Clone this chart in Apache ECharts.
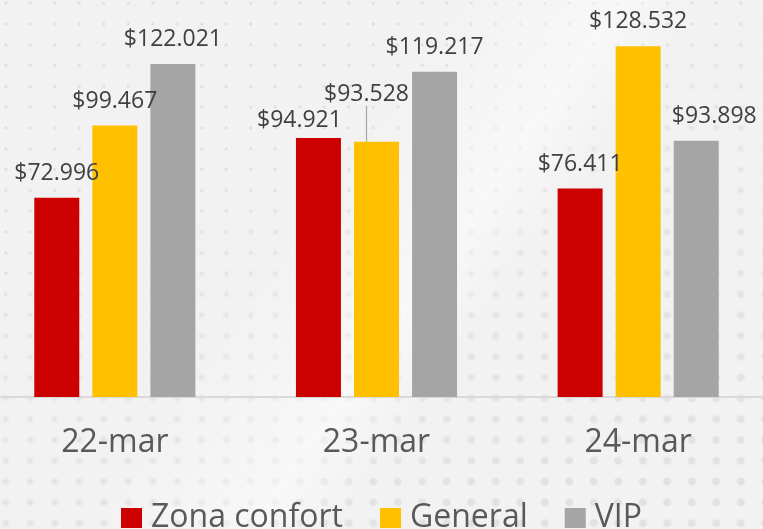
<!DOCTYPE html>
<html>
<head>
<meta charset="utf-8">
<title>Ventas por zona</title>
<script src="https://cdn.jsdelivr.net/npm/echarts@6/dist/echarts.min.js"></script>
<style>
  html, body { margin: 0; padding: 0; }
  body { width: 763px; height: 529px; position: relative; overflow: hidden; background: #f2f2f2; }
  /* fondo decorativo: puntos pequeños arriba, grandes abajo a la derecha */
  .dots-small, .dots-big, .shine { position: absolute; left: 0; top: 0; width: 763px; height: 529px; }
  .dots-small {
    background-image: radial-gradient(circle, #e0e0e0 1.3px, rgba(224,224,224,0) 1.9px);
    background-size: 24.5px 20.8px;
    background-position: -6.5px 13.6px;
  }
  .dots-big {
    background-image: radial-gradient(circle, #e2e2e2 3.6px, rgba(226,226,226,0) 4.3px);
    background-size: 24.5px 20.8px;
    background-position: -6.5px 13.6px;
    -webkit-mask-image: linear-gradient(160deg, rgba(0,0,0,0) 35%, rgba(0,0,0,1) 85%);
    mask-image: linear-gradient(160deg, rgba(0,0,0,0) 35%, rgba(0,0,0,1) 85%);
  }
  .shine {
    background: linear-gradient(125deg, rgba(255,255,255,0) 40%, rgba(255,255,255,0.45) 55%, rgba(255,255,255,0) 62%);
  }
  /* el gráfico sobresale un poco por los lados, como en el original */
  #chart { position: absolute; left: -16px; top: 0; width: 785px; height: 529px; }
</style>
</head>
<body>
<div class="dots-small"></div>
<div class="dots-big"></div>
<div class="shine"></div>
<div id="chart"></div>
<script>
// Datos del gráfico
const fechas = ['22-mar', '23-mar', '24-mar'];
const zonaConfort = [72996, 94921, 76411];
const general = [99467, 93528, 128532];
const vip = [122021, 119217, 93898];

// Colores de cada serie
const colores = ['#cc0000', '#ffc000', '#a5a5a5'];

// Formato $72.996 (punto como separador de miles)
function formatoPesos(valor) {
  return '$' + String(valor).replace(/\B(?=(\d{3})+(?!\d))/g, '.');
}

const chart = echarts.init(document.getElementById('chart'), null, { renderer: 'canvas' });

const etiqueta = {
  show: true,
  position: 'top',
  distance: 13,
  color: '#404040',
  fontFamily: 'Open Sans',
  fontSize: 23,
  formatter: function (p) { return formatoPesos(p.value); }
};

const option = {
  backgroundColor: 'transparent',
  animation: false,
  color: colores,
  grid: { left: 0, right: 0, top: 15, bottom: 132, containLabel: false },
  legend: {
    top: 497,
    left: 132,
    itemWidth: 21,
    itemHeight: 20,
    itemGap: 37,
    icon: 'rect',
    textStyle: { color: '#595959', fontFamily: 'Open Sans', fontSize: 32, padding: [0, 0, 0, 4] },
    data: ['Zona confort', 'General', 'VIP']
  },
  xAxis: {
    type: 'category',
    data: fechas,
    axisLine: { show: true, lineStyle: { color: '#d9d9d9', width: 2 } },
    axisTick: { show: false },
    axisLabel: { color: '#595959', fontFamily: 'Open Sans', fontSize: 32, margin: 30 }
  },
  yAxis: {
    type: 'value',
    min: 0,
    max: 140000,
    show: false,
    splitLine: { show: false }
  },
  series: [
    {
      name: 'Zona confort',
      type: 'bar',
      barWidth: 45,
      barGap: '29%',
      label: etiqueta,
      data: zonaConfort.map(function (v, i) {
        // etiqueta de 23-mar desplazada a la izquierda
        if (i === 1) return { value: v, label: { offset: [-19, 7] } };
        return v;
      })
    },
    {
      name: 'General',
      type: 'bar',
      barWidth: 45,
      barGap: '29%',
      label: etiqueta,
      labelLine: { show: false },
      labelLayout: function (p) {
        // etiqueta de 23-mar subida, con línea guía
        if (p.dataIndex === 1) return { dy: -23, dx: -10 };
        return {};
      },
      data: general.map(function (v, i) {
        if (i === 1) return { value: v, labelLine: { show: true, lineStyle: { color: '#a6a6a6', width: 1.2 } } };
        return v;
      })
    },
    {
      name: 'VIP',
      type: 'bar',
      barWidth: 45,
      barGap: '29%',
      label: etiqueta,
      data: vip.map(function (v, i) {
        // etiqueta de 24-mar desplazada a la derecha
        if (i === 2) return { value: v, label: { offset: [18, 0] } };
        return v;
      })
    }
  ]
};

chart.setOption(option);
</script>
</body>
</html>
